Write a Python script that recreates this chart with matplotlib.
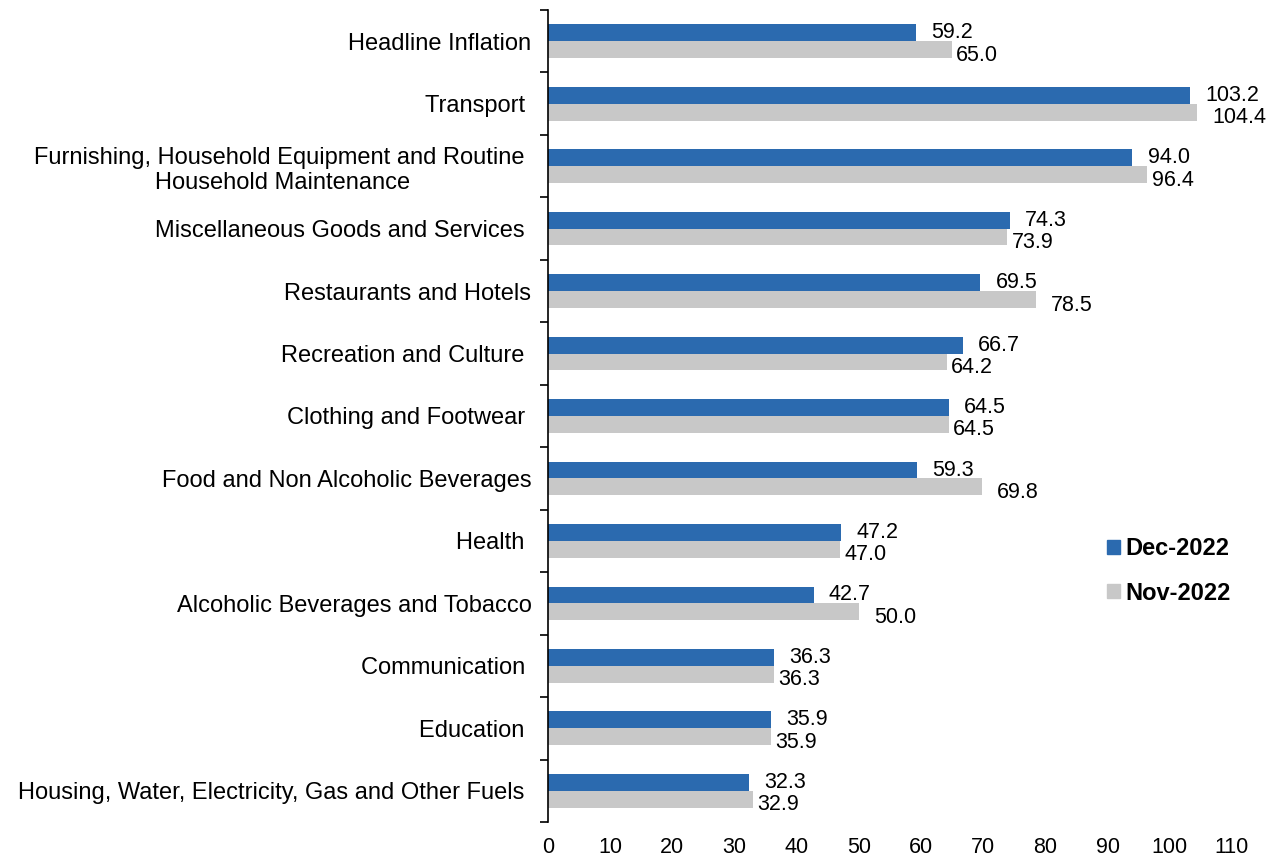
import numpy as np
import matplotlib.pyplot as plt
from matplotlib.patches import Patch

plt.rcParams['font.family'] = ['Liberation Sans', 'DejaVu Sans']

# categories listed top to bottom
categories = [
    "Headline Inflation",
    "Transport ",
    "Furnishing, Household Equipment and Routine \nHousehold Maintenance",
    "Miscellaneous Goods and Services ",
    "Restaurants and Hotels",
    "Recreation and Culture ",
    "Clothing and Footwear ",
    "Food and Non Alcoholic Beverages",
    "Health ",
    "Alcoholic Beverages and Tobacco",
    "Communication ",
    "Education ",
    "Housing, Water, Electricity, Gas and Other Fuels ",
]
dec_2022 = [59.2, 103.2, 94.0, 74.3, 69.5, 66.7, 64.5, 59.3, 47.2, 42.7, 36.3, 35.9, 32.3]
nov_2022 = [65.0, 104.4, 96.4, 73.9, 78.5, 64.2, 64.5, 69.8, 47.0, 50.0, 36.3, 35.9, 32.9]
xticks = list(range(0, 111, 10))

blue = '#2b6aaf'
grey = '#c8c8c8'

fig = plt.figure(figsize=(12.79, 8.61), dpi=100)
ax = fig.add_axes([0.4285, 0.0453, 0.5347, 0.9431])

y = np.arange(len(categories))
h = 0.27
ax.barh(y - h / 2, dec_2022, height=h, color=blue)
ax.barh(y + h / 2, nov_2022, height=h, color=grey)

# value labels, nov labels pushed further out when the grey bar sticks out
for yi, d, n in zip(y, dec_2022, nov_2022):
    ax.annotate("%.1f" % d, (d, yi - h / 2), xytext=(11, 0), textcoords='offset points',
                va='center', ha='left', fontsize=15.5)
    off = 11 if (n - d > 6 or yi == 1) else 3
    ax.annotate("%.1f" % n, (n, yi + h / 2), xytext=(off, -4), textcoords='offset points',
                va='center', ha='left', fontsize=15.5)

ax.set_xlim(0, 110)
ax.set_ylim(len(categories) - 0.5, -0.5)
ax.set_xticks(xticks)
ax.set_xticklabels([str(t) for t in xticks], fontsize=15.5)
ax.tick_params(axis='x', length=0, pad=11)

ax.set_yticks(y)
ax.set_yticklabels(categories, fontsize=17, multialignment='center')
ax.tick_params(axis='y', which='major', length=0, pad=12)
ax.set_yticks(np.arange(-0.5, len(categories), 1), minor=True)
ax.tick_params(axis='y', which='minor', length=6, width=1.2, direction='out')

for s in ['top', 'right', 'bottom']:
    ax.spines[s].set_visible(False)
ax.spines['left'].set_linewidth(1.2)

handles = [Patch(color=blue, label='Dec-2022'), Patch(color=grey, label='Nov-2022')]
leg = ax.legend(handles=handles, loc='center left', bbox_to_anchor=(0.7865, 0.309),
                frameon=False, handlelength=0.55, handleheight=0.55, handletextpad=0.2,
                labelspacing=0.9, prop={'weight': 'bold', 'size': 17})

fig.savefig('out.png', dpi=100)
